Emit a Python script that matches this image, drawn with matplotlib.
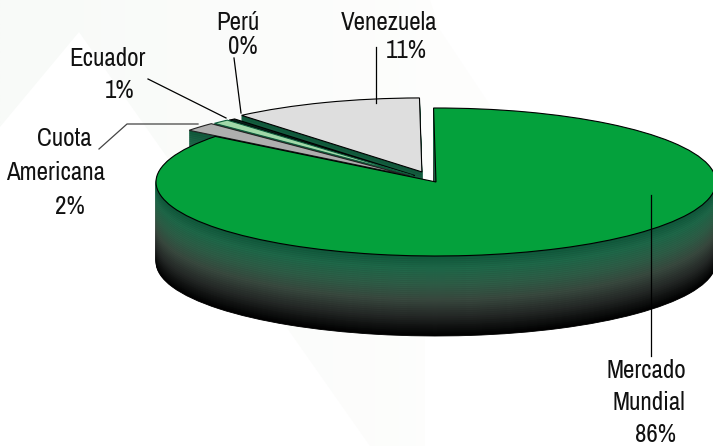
import numpy as np
import matplotlib
matplotlib.use('Agg')
import matplotlib.pyplot as plt
from matplotlib.colors import LinearSegmentedColormap
from matplotlib.patches import Polygon, Wedge

# valores del grafico
valores = [11.0, 0.4, 1.0, 1.9, 85.7]
colores = ['#dedede', '#06201a', '#a0d8a8', '#aeaeae', '#04a13c']
bordes = ['black', 'black', '#0d5c3c', '#222222', 'black']
separacion = [0.145, 0.115, 0.12, 0.125, 0.0]

# textos: cada renglon con su posicion en pixeles
textos = ['Venezuela', '11%', 'Perú', '0%', 'Ecuador', '1%', 'Cuota', 'Americana', '2%',
          'Mercado', 'Mundial', '86%']
textos_x = [389, 406, 238, 243, 107, 120, 64, 56, 70, 646, 649, 655]
textos_y = [23, 51, 22, 47, 58, 90, 139, 173, 206, 371, 403, 435]

# geometria en pixeles de la imagen
W, H = 713, 446
cx, cy = 436, 182
rx, ry = 280, 74
alto = 80
inicio = 90.5

plt.rcParams['font.family'] = ['Archivo Narrow', 'Liberation Sans Narrow', 'Liberation Sans']

fig = plt.figure(figsize=(W / 100, H / 100), dpi=100, facecolor='white')

# fondo muy palido
fondo = fig.add_axes([0, 0, 1, 1], zorder=0)
fondo.set_xlim(0, W)
fondo.set_ylim(H, 0)
fondo.axis('off')
mancha = Polygon([(0, 0), (0, 127), (79, 32), (370, 446), (425, 446), (425, 300), (490, 105), (440, 30), (430, 0)],
                 transform=fondo.transData, lw=0, fc='none')
fondo.add_patch(mancha)
rampa = LinearSegmentedColormap.from_list('rampa', ['#f8faf8', '#fefefd'])
img = fondo.imshow(np.linspace(0, 1, 256)[None, :], extent=(0, 500, H, 0), cmap=rampa, aspect='auto')
img.set_clip_path(mancha)
fondo.set_xlim(0, W)
fondo.set_ylim(H, 0)

ax = fig.add_axes([0, 0, 1, 1], zorder=1)
ax.patch.set_alpha(0)

degradado = LinearSegmentedColormap.from_list('lado', [(0, '#0f5a3c'), (0.15, '#1f6a4a'), (0.35, '#2f5f48'),
                                                       (0.55, '#3a4a40'), (0.75, '#262a28'), (1, '#000000')])

# cada rebanada se apila de abajo hacia arriba para hacer el lado 3D
total = sum(valores)
ini = inicio
for i, v in enumerate(valores):
    fin = ini + 360 * v / total
    mid = np.radians((ini + fin) / 2)
    dx = separacion[i] * np.cos(mid)
    dy = separacion[i] * np.sin(mid)
    for k in range(alto, 0, -1):
        c = np.array(degradado(k / alto))
        if k % 2:
            c[:3] *= 0.92
        ax.add_patch(Wedge((dx, dy - k / ry), 1, ini, fin, facecolor=c, edgecolor=c, lw=0.6))
    ax.add_patch(Wedge((dx, dy), 1, ini, fin, facecolor=colores[i], edgecolor=bordes[i], lw=0.8))
    ini = fin

ax.set_xlim(-cx / rx, (W - cx) / rx)
ax.set_ylim((cy - H) / ry, cy / ry)
ax.axis('off')

top = fig.add_axes([0, 0, 1, 1], zorder=2)
top.patch.set_alpha(0)
top.set_xlim(0, W)
top.set_ylim(H, 0)
top.axis('off')

top.plot([234, 241], [58, 113], color='black', lw=0.9)
top.plot([148, 226], [79, 118], color='black', lw=0.9)
top.plot([99, 127, 198], [149, 124, 124], color='#444444', lw=0.9)
top.plot([376, 376], [47, 103], color='black', lw=0.9)
top.plot([651, 651], [195, 356], color='black', lw=0.9)

for t, x, y in zip(textos, textos_x, textos_y):
    top.text(x, y, t, ha='center', va='center', fontsize=18, color='#111111')

fig.savefig('out.png', dpi=100)
